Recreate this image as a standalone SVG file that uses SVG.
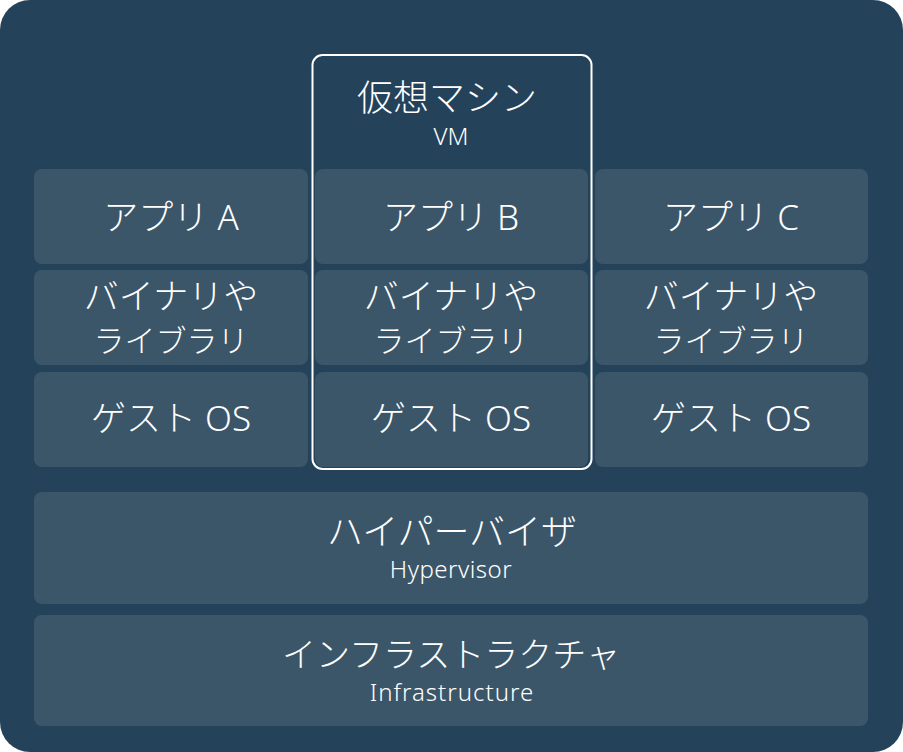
<svg xmlns="http://www.w3.org/2000/svg" width="903" height="752" viewBox="0 0 903 752">
<style>
.box{fill:#3C5669}
.t{font-family:"Noto Sans","Noto Sans CJK JP",sans-serif;fill:#FFFFFF;text-anchor:middle;font-weight:300}
.big{font-size:35px}
.mid{font-size:31px}
.sub{font-size:24px}
</style>
<rect x="0" y="0" width="903" height="752" rx="30" fill="#24435A"/>
<g id="vm">
<rect x="312.5" y="55" width="279" height="414" rx="10" fill="none" stroke="#FFFFFF" stroke-width="2"/>
<text class="t" style="font-size:36px" x="447" y="111">仮想マシン</text>
<text class="t sub" x="451" y="145">VM</text>
</g>
<g id="appA"><rect class="box" x="34" y="169" width="274" height="95" rx="8"/><text class="t big" x="171" y="230">アプリ A</text></g>
<g id="appB"><rect class="box" x="315" y="169" width="273" height="95" rx="8"/><text class="t big" x="451" y="230">アプリ B</text></g>
<g id="appC"><rect class="box" x="595" y="169" width="273" height="95" rx="8"/><text class="t big" x="731" y="230">アプリ C</text></g>
<g id="libA"><rect class="box" x="34" y="270" width="274" height="95" rx="8"/><text class="t big" x="171" y="309">バイナリや</text><text class="t mid" x="171" y="352">ライブラリ</text></g>
<g id="libB"><rect class="box" x="315" y="270" width="273" height="95" rx="8"/><text class="t big" x="451" y="309">バイナリや</text><text class="t mid" x="451" y="352">ライブラリ</text></g>
<g id="libC"><rect class="box" x="595" y="270" width="273" height="95" rx="8"/><text class="t big" x="731" y="309">バイナリや</text><text class="t mid" x="731" y="352">ライブラリ</text></g>
<g id="osA"><rect class="box" x="34" y="372" width="274" height="95" rx="8"/><text class="t big" x="171" y="431">ゲスト OS</text></g>
<g id="osB"><rect class="box" x="315" y="372" width="273" height="95" rx="8"/><text class="t big" x="451" y="431">ゲスト OS</text></g>
<g id="osC"><rect class="box" x="595" y="372" width="273" height="95" rx="8"/><text class="t big" x="731" y="431">ゲスト OS</text></g>
<g id="hypervisor"><rect class="box" x="34" y="492" width="834" height="112" rx="8"/><text class="t" style="font-size:36px" x="452" y="545">ハイパーバイザ</text><text class="t sub" x="451" y="578" letter-spacing="0.5">Hypervisor</text></g>
<g id="infra"><rect class="box" x="34" y="615" width="834" height="111" rx="8"/><text class="t" style="font-size:34px" x="451" y="667">インフラストラクチャ</text><text class="t sub" x="452" y="701" letter-spacing="1">Infrastructure</text></g>
<g id="connectors"/>
</svg>
